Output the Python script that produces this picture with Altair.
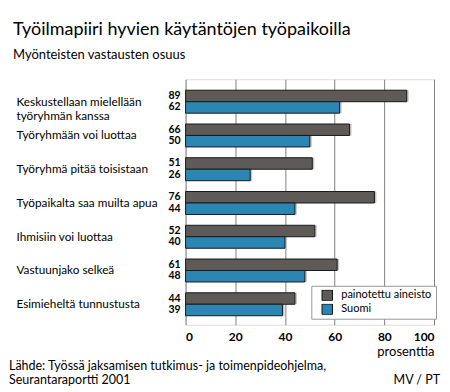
import altair as alt
import pandas as pd

# ---- data ----
categories = [
    "Keskustellaan mielellään|työryhmän kanssa",
    "Työryhmään voi luottaa",
    "Työryhmä pitää toisistaan",
    "Työpaikalta saa muilta apua",
    "Ihmisiin voi luottaa",
    "Vastuunjako selkeä",
    "Esimieheltä tunnustusta",
]
series = ["painotettu aineisto", "Suomi"]
weighted = [89, 66, 51, 76, 52, 61, 44]
finland = [62, 50, 26, 44, 40, 48, 39]
x_ticks = [0, 20, 40, 60, 80, 100]
colors = ["#5e5a57", "#2b86b3"]

title_text = "Työilmapiiri hyvien käytäntöjen työpaikoilla"
subtitle_text = "Myönteisten vastausten osuus"
source_lines = ["Lähde: Työssä jaksamisen tutkimus- ja toimenpideohjelma,", "Seurantaraportti 2001"]
credit_text = "MV / PT"
x_title = "prosenttia"

rows = []
for c, a, b in zip(categories, weighted, finland):
    rows.append({"category": c, "series": series[0], "value": a})
    rows.append({"category": c, "series": series[1], "value": b})
df = pd.DataFrame(rows)

FONT = "Lato"

y_enc = alt.Y(
    "category:N",
    sort=categories,
    scale=alt.Scale(paddingInner=0.32, paddingOuter=0.295, align=0.55),
    axis=alt.Axis(
        title=None, orient="left", ticks=False, domain=False,
        labelAlign="left", labelPadding=170, labelFontSize=11.8,
        labelFont=FONT, labelColor="#000", labelLineHeight=14,
        labelExpr="split(datum.label, '|')", labelLimit=200,
    ),
)
yoff = alt.YOffset("series:N", sort=series, scale=alt.Scale(paddingInner=0, paddingOuter=0))

base = alt.Chart(df)

shadow = base.mark_bar(color="#c4c4c4", xOffset=2, yOffset=2).encode(
    x=alt.X("value:Q"), y=y_enc, yOffset=yoff
)

bars = base.mark_bar(stroke="#1a1a1a", strokeWidth=1).encode(
    x=alt.X(
        "value:Q",
        scale=alt.Scale(domain=[0, 100], nice=False),
        axis=alt.Axis(
            values=x_ticks, title=x_title, titleAnchor="end", titleAlign="right",
            titleFont=FONT, titleFontSize=13, titleFontWeight="normal", titleColor="#000",
            titlePadding=3, ticks=False, domain=False, grid=True,
            gridColor="#808080", gridWidth=1, labelFont=FONT, labelFontSize=12,
            labelFontWeight="bold", labelColor="#000", labelPadding=7,
        ),
    ),
    y=y_enc,
    yOffset=yoff,
    color=alt.Color(
        "series:N",
        sort=series,
        scale=alt.Scale(domain=series, range=colors),
        legend=alt.Legend(
            title=None, orient="none", legendX=126, legendY=207,
            fillColor="white", strokeColor="#999", padding=4,
            symbolType="square", symbolSize=110, symbolStrokeColor="#111",
            symbolStrokeWidth=1, symbolOpacity=1, symbolOffset=6,
            labelFont=FONT, labelFontSize=11,
            labelColor="#000", labelOffset=8, rowPadding=2, labelLimit=200,
            clipHeight=11, offset=0,
        ),
    ),
)

values_txt = base.mark_text(align="right", baseline="middle", font=FONT, fontSize=10.5,
                            fontWeight="bold", color="#000").encode(
    x=alt.value(-5), y=y_enc, yOffset=yoff, text="value:Q"
)

one = pd.DataFrame({"k": [0]})

def label(text, x, y, size, weight="normal", align="left"):
    return alt.Chart(one).mark_text(
        text=text, align=align, baseline="middle", font=FONT, fontSize=size,
        fontWeight=weight, color="#000",
    ).encode(x=alt.value(x), y=alt.value(y))

annotations = [
    label(title_text, -173, -49, 18),
    label(subtitle_text, -173, -24, 13),
    label(source_lines[0], -177, 287, 12.5),
    label(source_lines[1], -177, 301, 12.5),
    label(credit_text, 255, 301, 12.5, align="right"),
]

chart = alt.layer(shadow, bars, values_txt, *annotations).properties(
    width=249, height=246,
    autosize=alt.AutoSizeParams(type="none"),
    padding={"left": 178, "top": 71, "right": 8, "bottom": 62},
).configure_view(stroke="#808080", strokeWidth=1).configure(background="white")

chart.save("out.html", embed_options={"renderer": "svg", "actions": False})
